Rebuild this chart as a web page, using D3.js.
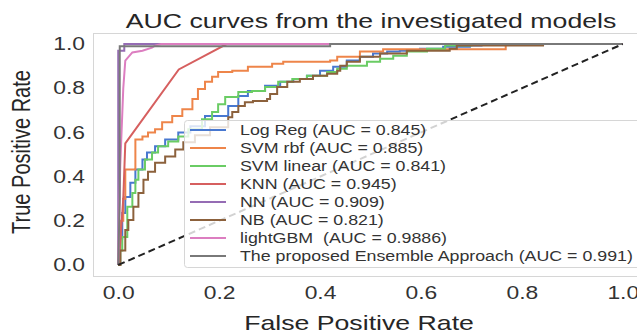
<!DOCTYPE html>
<html>
<head>
<meta charset="utf-8">
<script src="https://cdn.jsdelivr.net/npm/d3@7"></script>
<style>
  body { margin: 0; background: #fff; }
  text { font-family: "Liberation Sans", Arial, sans-serif; fill: #262626; white-space: pre; }
</style>
</head>
<body>
<div class="chart"></div>
<script>
// ROC points, [fpr, tpr]
const logReg = [[0,0],[0.004,0.12],[0.008,0.235],[0.014,0.308],[0.024,0.372],[0.034,0.432],[0.048,0.477],[0.057,0.509],[0.073,0.537],[0.093,0.568],[0.119,0.600],[0.143,0.628],[0.172,0.674],[0.218,0.719],[0.238,0.765],[0.257,0.788],[0.291,0.811],[0.321,0.829],[0.347,0.842],[0.374,0.856],[0.400,0.879],[0.426,0.897],[0.453,0.925],[0.479,0.943],[0.505,0.957],[0.533,0.966],[0.558,0.970],[0.598,0.979],[0.644,0.988],[0.697,0.993],[0.72,1],[1,1]];
const svmRbf = [[0,0],[0.004,0.2],[0.01,0.3],[0.014,0.432],[0.034,0.432],[0.034,0.568],[0.048,0.582],[0.059,0.600],[0.073,0.614],[0.087,0.646],[0.107,0.674],[0.127,0.705],[0.147,0.751],[0.158,0.797],[0.172,0.829],[0.186,0.852],[0.198,0.874],[0.226,0.879],[0.257,0.897],[0.305,0.911],[0.327,0.920],[0.420,0.925],[0.434,0.943],[0.479,0.966],[0.525,0.977],[0.768,0.977],[0.768,1],[1,1]];
const svmLinear = [[0,0],[0.004,0.066],[0.008,0.126],[0.018,0.263],[0.028,0.326],[0.034,0.386],[0.040,0.432],[0.053,0.477],[0.067,0.509],[0.079,0.537],[0.099,0.559],[0.119,0.582],[0.139,0.614],[0.166,0.660],[0.186,0.692],[0.198,0.728],[0.212,0.760],[0.238,0.783],[0.265,0.788],[0.291,0.806],[0.317,0.829],[0.345,0.842],[0.374,0.856],[0.414,0.874],[0.434,0.888],[0.453,0.902],[0.493,0.920],[0.519,0.934],[0.545,0.947],[0.572,0.966],[0.612,0.979],[0.648,0.993],[0.70,1],[1,1]];
const knn = [[0,0],[0.004,0.1],[0.01,0.3],[0.014,0.55],[0.12,0.885],[0.215,1],[1,1]];
const nn = [[0,0],[0,0.97],[0.012,0.97],[0.012,1],[1,1]];
const nb = [[0,0],[0.004,0.066],[0.014,0.080],[0.014,0.158],[0.020,0.203],[0.030,0.263],[0.040,0.326],[0.050,0.386],[0.059,0.422],[0.073,0.463],[0.093,0.491],[0.113,0.523],[0.129,0.555],[0.152,0.587],[0.182,0.623],[0.218,0.669],[0.226,0.692],[0.238,0.719],[0.251,0.737],[0.267,0.742],[0.295,0.751],[0.301,0.774],[0.315,0.806],[0.335,0.829],[0.360,0.842],[0.386,0.856],[0.414,0.865],[0.434,0.879],[0.440,0.902],[0.453,0.920],[0.479,0.943],[0.519,0.957],[0.572,0.970],[0.657,0.979],[0.671,0.993],[0.842,0.993],[0.842,1],[1,1]];
const lightGbm = [[0,0],[0.004,0.45],[0.01,0.8],[0.014,0.925],[0.028,0.962],[0.048,0.970],[0.067,0.984],[0.073,0.993],[0.085,1],[1,1]];
const ensemble = [[0,0],[0.003,0.3],[0.003,0.99],[0.42,0.99],[0.42,1],[1,1]];

const labels = ["Log Reg (AUC = 0.845)", "SVM rbf (AUC = 0.885)", "SVM linear (AUC = 0.841)",
                "KNN (AUC = 0.945)", "NN (AUC = 0.909)", "NB (AUC = 0.821)",
                "lightGBM  (AUC = 0.9886)", "The proposed Ensemble Approach (AUC = 0.991)"];
const curves = [logReg, svmRbf, svmLinear, knn, nn, nb, lightGbm, ensemble];
const stepped = [true, true, true, false, false, true, false, false];
const colors = ["#4878d0", "#ee854a", "#6acc64", "#d65f5f", "#956cb4", "#8c613c", "#dc7ec0", "#797979"];
const ticks = [0, 0.2, 0.4, 0.6, 0.8, 1.0];

const w = 637;
const h = 335;
const pLeft = 93, pRight = 648, pTop = 33, pBottom = 276;
const sx = 1.27;  // the source picture is stretched sideways

const svg = d3.select(".chart")
              .append("svg")
              .attr("width", w)
              .attr("height", h);

const xScale = d3.scaleLinear().domain([-0.05, 1.05]).range([pLeft, pRight]);
const yScale = d3.scaleLinear().domain([-0.05, 1.05]).range([pBottom, pTop]);

// move x/y into a transform so the glyphs can be widened
function stretch(sel) {
  sel.each(function() {
    const t = d3.select(this);
    const x = +t.attr("x") || 0, y = +t.attr("y") || 0;
    t.attr("x", 0).attr("y", 0)
     .attr("transform", "translate(" + x + "," + y + ") scale(" + sx + ",1)");
  });
}

svg.append("clipPath").attr("id", "clip")
   .append("rect")
   .attr("x", pLeft).attr("y", pTop)
   .attr("width", pRight - pLeft).attr("height", pBottom - pTop);

svg.append("rect")
   .attr("x", pLeft + 0.5).attr("y", pTop + 0.5)
   .attr("width", pRight - pLeft).attr("height", pBottom - pTop)
   .attr("fill", "none")
   .attr("stroke", "#d6d6d6");

const plot = svg.append("g").attr("clip-path", "url(#clip)");

curves.forEach((c, i) => {
  const line = d3.line()
                 .x(d => xScale(d[0]))
                 .y(d => yScale(d[1]))
                 .curve(stepped[i] ? d3.curveStepAfter : d3.curveLinear);
  plot.append("path")
      .datum(c)
      .attr("d", line)
      .attr("fill", "none")
      .attr("stroke", colors[i])
      .attr("stroke-width", 2);
});

// chance line
plot.append("path")
    .datum([[0, 0], [1, 1]])
    .attr("d", d3.line().x(d => xScale(d[0])).y(d => yScale(d[1])))
    .attr("stroke", "#222")
    .attr("stroke-width", 2)
    .attr("stroke-dasharray", "7,4");

const xAxis = d3.axisBottom(xScale).tickValues(ticks).tickFormat(d3.format(".1f")).tickSize(0).tickPadding(10);
const yAxis = d3.axisLeft(yScale).tickValues(ticks).tickFormat(d3.format(".1f")).tickSize(0).tickPadding(8);

const gx = svg.append("g")
   .attr("transform", "translate(0," + pBottom + ")")
   .call(xAxis)
   .attr("id", "x-axis");
const gy = svg.append("g")
   .attr("transform", "translate(" + pLeft + ", 0)")
   .call(yAxis)
   .attr("id", "y-axis");
[gx, gy].forEach(g => {
  g.select(".domain").remove();
  g.selectAll("text").style("font-size", "18px").style("fill", "#333")
   .style("font-family", "'Liberation Sans', Arial, sans-serif")
   .call(stretch);
});

svg.append("text")
   .attr("x", 371).attr("y", 28)
   .attr("text-anchor", "middle")
   .style("font-size", "21px")
   .text("AUC curves from the investigated models")
   .call(stretch);

svg.append("text")
   .attr("x", 359).attr("y", 330)
   .attr("text-anchor", "middle")
   .style("font-size", "21px")
   .text("False Positive Rate")
   .call(stretch);

svg.append("text")
   .attr("transform", "translate(30,152) scale(" + sx + ",1) rotate(-90)")
   .attr("text-anchor", "middle")
   .style("font-size", "20px")
   .text("True Positive Rate");

// legend
const legend = svg.append("g");
legend.append("rect")
      .attr("x", 184.5).attr("y", 120.5)
      .attr("width", 470).attr("height", 147)
      .attr("rx", 3)
      .attr("fill", "rgba(255,255,255,0.8)")
      .attr("stroke", "#d6d6d6");

const rows = legend.selectAll("g.row")
      .data(labels)
      .enter()
      .append("g")
      .attr("class", "row")
      .attr("transform", (d, i) => "translate(0," + (130 + i * 18) + ")");
rows.append("line")
    .attr("x1", 190).attr("x2", 226)
    .attr("stroke", (d, i) => colors[i])
    .attr("stroke-width", 2);
rows.append("text")
    .attr("x", 240).attr("y", 5)
    .style("font-size", "14px")
    .style("fill", "#333")
    .text(d => d)
    .call(stretch);
</script>
</body>
</html>
